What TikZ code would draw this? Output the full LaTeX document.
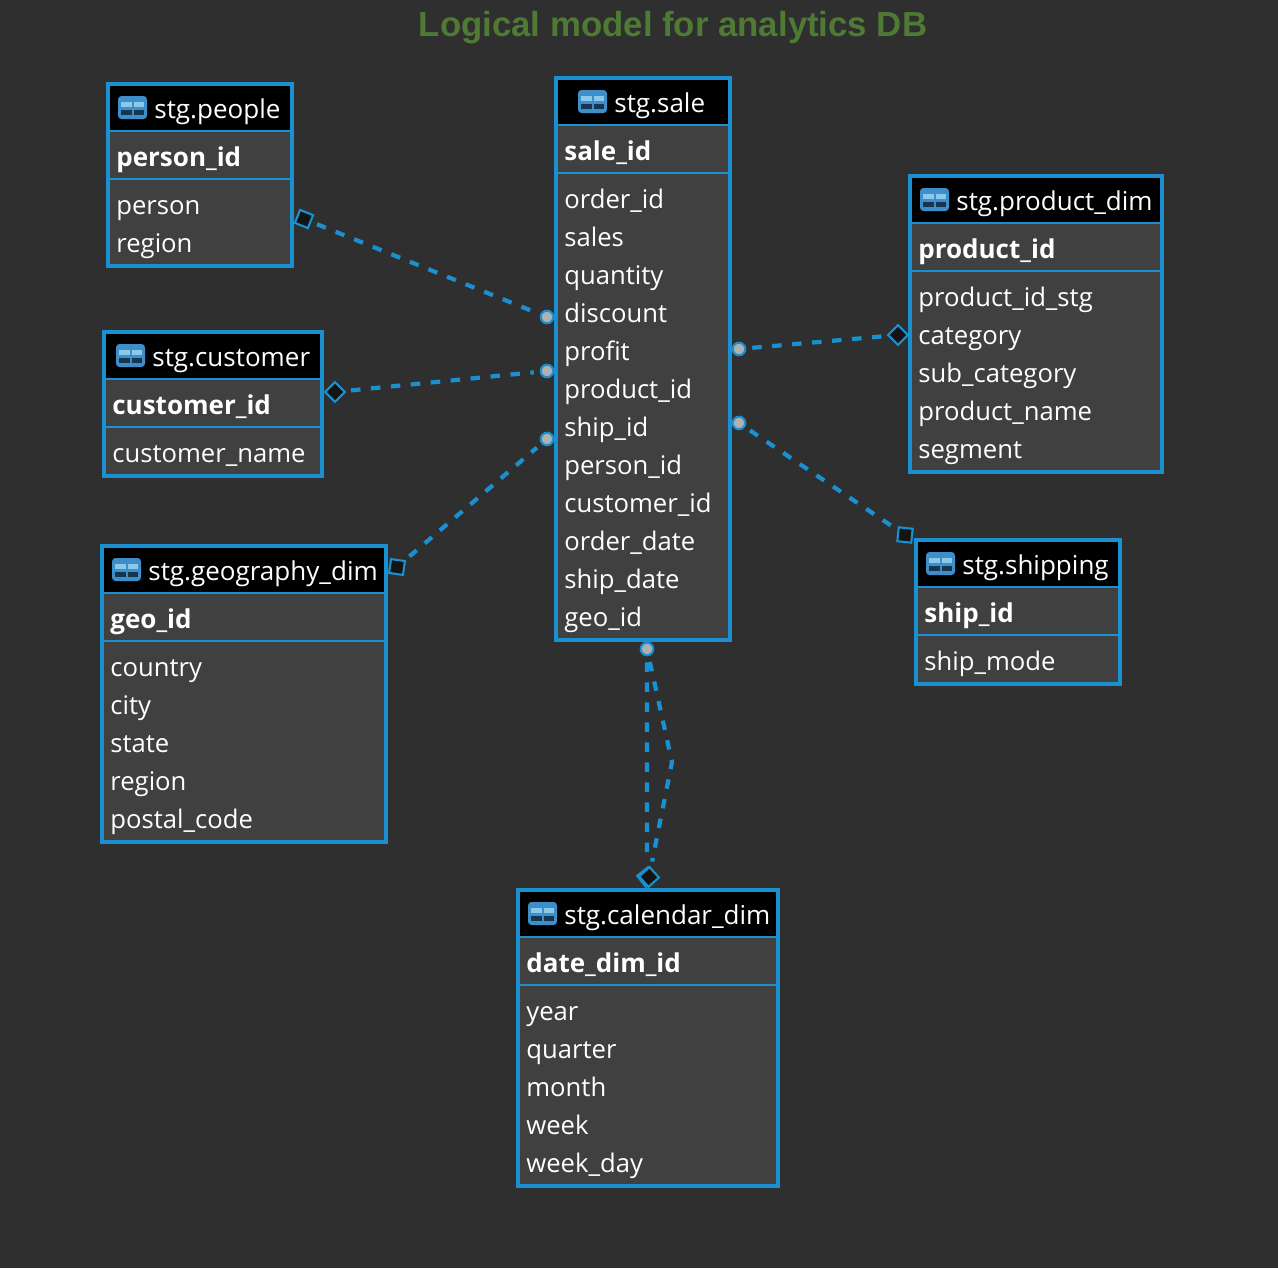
\documentclass[tikz,border=0pt]{standalone}
\usepackage{fontspec}
\setmainfont{Open Sans}
\newfontfamily\titlefont{Liberation Sans}
\usepackage{xcolor}
\usetikzlibrary{calc, fit, positioning}
\definecolor{canvasbg}{HTML}{2F2F2F}
\definecolor{tablebg}{HTML}{404040}
\definecolor{linkblue}{HTML}{1A90D0}
\definecolor{titlegreen}{HTML}{4E7A33}
\definecolor{iconblue}{HTML}{3D8EC9}
\definecolor{iconlight}{HTML}{8CC8EA}
\definecolor{icondark}{HTML}{17354D}
\definecolor{endfill}{HTML}{141414}
\definecolor{pkfill}{HTML}{B0B0B0}
\tikzset{
  tablebox/.style={draw=linkblue, fill=tablebg, line width=2.3pt, inner sep=0pt},
  headerbar/.style={fill=black, inner sep=0pt},
  sepline/.style={draw=linkblue, line width=1.1pt},
  rowtext/.style={anchor=west, text=white, inner sep=0pt, font=\fontsize{14.6}{18}\selectfont, text height=11.5pt, text depth=3.5pt},
  headtext/.style={rowtext, font=\fontsize{14.8}{18}\selectfont},
  pkcell/.style={rowtext, font=\fontsize{14.8}{18}\selectfont\bfseries},
  fklink/.style={draw=linkblue, line width=2.4pt, dash pattern=on 5.4pt off 6pt, shorten >=4pt, shorten <=4pt},
  pkend/.style={circle, draw=linkblue, fill=pkfill, line width=1.2pt, inner sep=0pt, minimum size=0.25cm, outer sep=0pt},
  fkend/.style={rectangle, draw=linkblue, fill=endfill, line width=1.2pt, inner sep=0pt, minimum size=0.28cm, outer sep=0pt}
}
% #1 name, #2 #3 left/right, #4 #5 top/bottom, #6 icon x, #7 title, #8 key, #9 columns
\newcommand{\dbtable}[9]{
  \coordinate (#1-nw) at (#2,#4);
  \coordinate (#1-se) at (#3,#5);
  \node[tablebox, fit={(#1-nw)(#1-se)}] (#1) {};
  \coordinate (#1-hnw) at (#2+2,#4+2);
  \coordinate (#1-hse) at (#3-2,#4+47);
  \node[headerbar, fit={(#1-hnw)(#1-hse)}] (#1-head) {};
  \draw[sepline] (#2+2,#4+47) -- (#3-2,#4+47);
  \draw[sepline] (#2+2,#4+95) -- (#3-2,#4+95);
  % table icon
  \fill[iconblue, rounded corners=2pt] (#6,#4+12) rectangle (#6+29,#4+35);
  \fill[iconlight] (#6+3,#4+18) rectangle (#6+13.5,#4+23);
  \fill[iconlight] (#6+16,#4+18) rectangle (#6+26,#4+23);
  \fill[icondark] (#6+3,#4+26) rectangle (#6+13.5,#4+31);
  \fill[icondark] (#6+16,#4+26) rectangle (#6+26,#4+31);
  \node[headtext] (#1-title) at (#6+36,#4+27) {#7};
  \node[pkcell] (#1-key) at (#2+8,#4+75) {#8};
  \foreach \col [count=\i from 0] in {#9} {
    \node[rowtext] (#1-col\i) at (#2+8,#4+123+38*\i) {\col};
  }
}

\begin{document}
\begin{tikzpicture}[x=0.02cm, y=-0.02cm]
  % --- Canvas ---
  \fill[canvasbg] (0,0) rectangle (1278,1268);
  \useasboundingbox (0,0) rectangle (1278,1268);
  \node[text=titlegreen, font=\titlefont\fontsize{19.8}{22}\selectfont\bfseries] (title) at (673,28) {Logical model for analytics DB};

  % --- Tables ---
  \dbtable{people}{108}{292}{84}{266}{118}{stg.people}{person\_id}{person, region}
  \dbtable{sale}{556}{730}{78}{640}{578}{stg.sale}{sale\_id}{order\_id, sales, quantity, discount, profit, product\_id, ship\_id, person\_id, customer\_id, order\_date, ship\_date, geo\_id}
  \dbtable{product}{910}{1162}{176}{472}{920}{stg.product\_dim}{product\_id}{product\_id\_stg, category, sub\_category, product\_name, segment}
  \dbtable{customer}{104}{322}{332}{476}{116}{stg.customer}{customer\_id}{customer\_name}
  \dbtable{geography}{102}{386}{546}{842}{112}{stg.geography\_dim}{geo\_id}{country, city, state, region, postal\_code}
  \dbtable{shipping}{916}{1120}{540}{684}{926}{stg.shipping}{ship\_id}{ship\_mode}
  \dbtable{calendar}{518}{778}{890}{1186}{528}{stg.calendar\_dim}{date\_dim\_id}{year, quarter, month, week, week\_day}

  % --- Link ends on stg.sale ---
  \node[pkend] (salePeople) at (547,317) {};
  \node[pkend] (saleCustomer) at (547,371) {};
  \node[pkend] (saleGeo) at (547,439) {};
  \node[pkend] (saleProduct) at (739,349) {};
  \node[pkend] (saleShip) at (739,423) {};
  \node[pkend] (saleDate) at (647,649) {};

  % --- Link ends on the other tables ---
  \node[fkend, rotate=-22] (fkPeople) at (304,219) {};
  \node[fkend, rotate=45] (fkCustomer) at (335,392) {};
  \node[fkend, rotate=-8] (fkGeo) at (397,567) {};
  \node[fkend, rotate=45] (fkProduct) at (898,335) {};
  \node[fkend, rotate=-6] (fkShip) at (905,535) {};
  \node[fkend, rotate=38] (fkDateA) at (647,877) {};
  \node[fkend, rotate=42] (fkDateB) at (649,877) {};
  \coordinate (dateBend) at (672,762);

  % --- Links ---
  \draw[fklink] (fkPeople) -- (salePeople);
  \draw[fklink] (fkCustomer) -- (saleCustomer);
  \draw[fklink] (fkGeo) -- (saleGeo);
  \draw[fklink] (saleProduct) -- (fkProduct);
  \draw[fklink] (saleShip) -- (fkShip);
  \draw[fklink] (saleDate) -- (fkDateA);
  \draw[fklink] (saleDate) -- (dateBend) -- (fkDateB);
\end{tikzpicture}
\end{document}
